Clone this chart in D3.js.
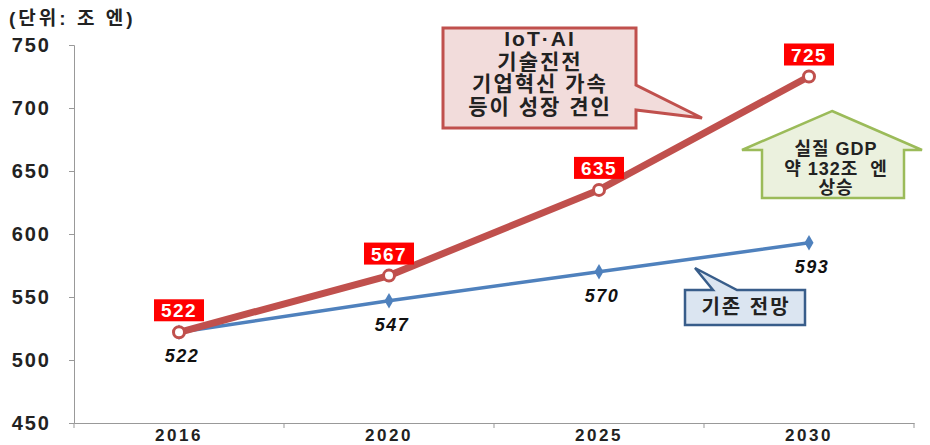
<!DOCTYPE html>
<html lang="ko">
<head>
<meta charset="UTF-8">
<title>실질 GDP 전망</title>
<style>
  body { margin: 0; background: #fff; }
  svg text { font-family: "Liberation Sans", Arial, "Noto Sans CJK KR", sans-serif; }
</style>
</head>
<body>
<script src="https://d3js.org/d3.v7.min.js"></script>
<script>
var years = ["2016", "2020", "2025", "2030"];
var aiValues = [522, 567, 635, 725];     // IoT·AI 시나리오
var baseValues = [522, 547, 570, 593];   // 기존 전망
var yTicks = [450, 500, 550, 600, 650, 700, 750];

var width = 930, height = 445;
var padLeft = 74, padRight = 914, padTop = 45, padBottom = 423;
var red = "#c0504d", blue = "#4f81bd";

var svg = d3.select("body").append("svg")
    .attr("width", width).attr("height", height);

var x = d3.scaleBand().domain(years).range([padLeft, padRight]);
var y = d3.scaleLinear().domain([450, 750]).range([padBottom, padTop]);
var cx = function(d, i) { return x(years[i]) + x.bandwidth() / 2; };

// 단위
svg.append("text").attr("x", 9).attr("y", 25)
    .attr("font-size", 19).attr("font-weight", "bold").attr("fill", "#222")
    .attr("letter-spacing", 3)
    .text("(단위: 조 엔)");

// y축
var yAxis = svg.append("g").attr("transform", "translate(" + padLeft + ",0)")
    .call(d3.axisLeft(y).tickValues(yTicks).tickSize(5).tickPadding(6));
yAxis.select(".domain").attr("stroke", "#999");
yAxis.selectAll(".tick line").attr("stroke", "#999");
yAxis.selectAll("text").attr("font-size", 20).attr("font-weight", "bold")
    .attr("fill", "#222").attr("dx", -12).attr("letter-spacing", 2);

// x축
var xAxis = svg.append("g").attr("transform", "translate(0," + padBottom + ")")
    .call(d3.axisBottom(x).tickSize(0).tickPadding(6));
xAxis.select(".domain").attr("stroke", "#999");
xAxis.selectAll("text").attr("font-size", 17).attr("font-weight", "bold")
    .attr("fill", "#222").attr("letter-spacing", 2.5);
svg.append("g").selectAll("line")
    .data(years.concat(["end"]))
    .enter().append("line")
    .attr("x1", function(d, i) { return padLeft + i * x.bandwidth(); })
    .attr("x2", function(d, i) { return padLeft + i * x.bandwidth(); })
    .attr("y1", padBottom).attr("y2", padBottom + 5)
    .attr("stroke", "#999");

// 기존 전망 선
var line = d3.line().x(cx).y(function(d) { return y(d); });
svg.append("path").datum(baseValues)
    .attr("d", line).attr("fill", "none")
    .attr("stroke", blue).attr("stroke-width", 3.5);
svg.append("g").selectAll("path")
    .data(baseValues).enter().append("path")
    .attr("d", d3.symbol().type(d3.symbolDiamond).size(70))
    .attr("transform", function(d, i) { return "translate(" + cx(d, i) + "," + y(d) + ")"; })
    .attr("fill", blue);
svg.append("g").selectAll("text")
    .data(baseValues).enter().append("text")
    .attr("x", function(d, i) { return cx(d, i) + 3; })
    .attr("y", function(d) { return y(d) + 30; })
    .attr("text-anchor", "middle")
    .attr("font-size", 18).attr("font-style", "italic").attr("font-weight", "bold")
    .attr("fill", "#111").attr("letter-spacing", 1.5)
    .text(function(d) { return d; });

// IoT·AI 선
svg.append("path").datum(aiValues)
    .attr("d", line).attr("fill", "none")
    .attr("stroke", red).attr("stroke-width", 7);
svg.append("g").selectAll("circle")
    .data(aiValues).enter().append("circle")
    .attr("cx", cx).attr("cy", function(d) { return y(d); })
    .attr("r", 5.5).attr("fill", "#fff")
    .attr("stroke", red).attr("stroke-width", 3);

var lab = svg.append("g").selectAll("g")
    .data(aiValues).enter().append("g")
    .attr("transform", function(d, i) { return "translate(" + cx(d, i) + "," + y(d) + ")"; });
lab.append("rect")
    .attr("x", -25).attr("y", -33).attr("width", 50).attr("height", 22)
    .attr("fill", "#ff0000");
lab.append("text")
    .attr("y", -15).attr("text-anchor", "middle")
    .attr("font-size", 19).attr("font-weight", "bold").attr("fill", "#fff")
    .attr("letter-spacing", 1.5)
    .text(function(d) { return d; });

// 말풍선 1
svg.append("path")
    .attr("d", "M443,28 H636 V85 L702,118 L636,110 V128 H443 Z")
    .attr("fill", "#f2dcdb").attr("stroke", red).attr("stroke-width", 3);
svg.append("g").selectAll("text")
    .data(["IoT·AI", "기술진전", "기업혁신 가속", "등이 성장 견인"])
    .enter().append("text")
    .attr("x", 540).attr("y", function(d, i) { return 46 + i * 22.5; })
    .attr("text-anchor", "middle")
    .attr("font-size", 21).attr("font-weight", "bold").attr("fill", "#222")
    .attr("letter-spacing", 2)
    .text(function(d) { return d; });

// 상승 화살표
svg.append("path")
    .attr("d", "M832,111 L922,150 H904 V198 H762 V150 H742 Z")
    .attr("fill", "#ebf1de").attr("stroke", "#9bbb59").attr("stroke-width", 2.5);
svg.append("g").selectAll("text")
    .data(["실질 GDP", "약 132조  엔", "상승"])
    .enter().append("text")
    .attr("x", 836).attr("y", function(d, i) { return 155 + i * 19.5; })
    .attr("text-anchor", "middle")
    .attr("font-size", 18).attr("font-weight", "bold").attr("fill", "#222")
    .attr("letter-spacing", 1)
    .attr("xml:space", "preserve")
    .text(function(d) { return d; });

// 말풍선 2
svg.append("path")
    .attr("d", "M685,290 H713 L695,268 L737,290 H805 V325 H685 Z")
    .attr("fill", "#dbe5f1").attr("stroke", "#385d8a").attr("stroke-width", 2.5);
svg.append("text")
    .attr("x", 746).attr("y", 314).attr("text-anchor", "middle")
    .attr("font-size", 20).attr("font-weight", "bold").attr("fill", "#222")
    .attr("letter-spacing", 2)
    .text("기존 전망");
</script>
</body>
</html>
